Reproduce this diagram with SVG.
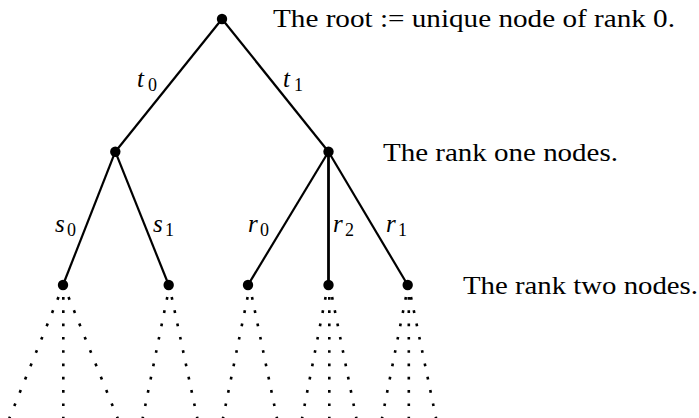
<svg xmlns="http://www.w3.org/2000/svg" width="699" height="418" viewBox="0 0 699 418">
<style>
.edge{stroke:#000;stroke-width:2.2;fill:none}
.dot{stroke:#000;stroke-width:2.6;fill:none;stroke-dasharray:0.2 0.8}
.node{fill:#000}
.sub{font-size:18px;font-style:normal}
</style>
<rect width="699" height="418" fill="#fff"/>
<g id="connectors">
  <line class="edge" x1="222" y1="19" x2="115.3" y2="151.7"/>
  <line class="edge" x1="222" y1="19" x2="328.5" y2="151.7"/>
  <line class="edge" x1="115.3" y1="151.7" x2="63" y2="285"/>
  <line class="edge" x1="115.3" y1="151.7" x2="168.7" y2="285"/>
  <line class="edge" x1="328.5" y1="151.7" x2="248" y2="285"/>
  <line class="edge" x1="328.5" y1="151.7" x2="328.5" y2="285" style="stroke-width:2.8"/>
  <line class="edge" x1="328.5" y1="151.7" x2="407.7" y2="285"/>
  <g id="dotted">
    <path class="dot" pathLength="10" d="M58.5,297 L4.6,430"/>
    <path class="dot" pathLength="10" d="M63.3,297 L63.3,430"/>
    <path class="dot" pathLength="10" d="M68.5,297 L122.4,430"/>
    <path class="dot" pathLength="10" d="M167.3,297 L140.3,430"/>
    <path class="dot" pathLength="10" d="M171.7,297 L199.8,430"/>
    <path class="dot" pathLength="10" d="M247.6,297 L220.6,430"/>
    <path class="dot" pathLength="10" d="M252,297 L279.4,430"/>
    <path class="dot" pathLength="10" d="M325.6,297 L299.8,430"/>
    <path class="dot" pathLength="10" d="M329.3,297 L329.3,430"/>
    <path class="dot" pathLength="10" d="M332.1,297 L358.7,430"/>
    <path class="dot" pathLength="10" d="M405.9,297 L379.7,430"/>
    <path class="dot" pathLength="10" d="M408.8,297 L408.8,430"/>
    <path class="dot" pathLength="10" d="M411,297 L438.5,430"/>
  </g>
</g>
<g id="root"><circle class="node" cx="222" cy="19" r="5.2"/></g>
<g id="n1a"><circle class="node" cx="115.3" cy="151.7" r="5.2"/></g>
<g id="n1b"><circle class="node" cx="328.5" cy="151.7" r="5.2"/></g>
<g id="n2a"><circle class="node" cx="63" cy="285" r="5.2"/></g>
<g id="n2b"><circle class="node" cx="168.7" cy="285" r="5.2"/></g>
<g id="n2c"><circle class="node" cx="248" cy="285" r="5.2"/></g>
<g id="n2d"><circle class="node" cx="328.5" cy="285" r="5.2"/></g>
<g id="n2e"><circle class="node" cx="407.7" cy="285" r="5.2"/></g>
<g id="labels" font-family="'Liberation Serif', 'Times New Roman', 'DejaVu Serif', serif" font-size="25" font-style="italic" fill="#000">
  <text x="137" y="87">t<tspan class="sub" x="148" y="91">0</tspan></text>
  <text x="283" y="87">t<tspan class="sub" x="294" y="91">1</tspan></text>
  <text x="55" y="232">s<tspan class="sub" x="67" y="236">0</tspan></text>
  <text x="153" y="232">s<tspan class="sub" x="165" y="236">1</tspan></text>
  <text x="248" y="232">r<tspan class="sub" x="260" y="236">0</tspan></text>
  <text x="333" y="232">r<tspan class="sub" x="345" y="236">2</tspan></text>
  <text x="386" y="232">r<tspan class="sub" x="398" y="236">1</tspan></text>
</g>
<g id="captions" font-family="'Liberation Serif', 'Times New Roman', 'DejaVu Serif', serif" font-size="25" fill="#000">
  <text x="273" y="27" textLength="402" lengthAdjust="spacingAndGlyphs">The root := unique node of rank 0.</text>
  <text x="383" y="161" textLength="235" lengthAdjust="spacingAndGlyphs">The rank one nodes.</text>
  <text x="463" y="294" textLength="235" lengthAdjust="spacingAndGlyphs">The rank two nodes.</text>
</g>
</svg>
